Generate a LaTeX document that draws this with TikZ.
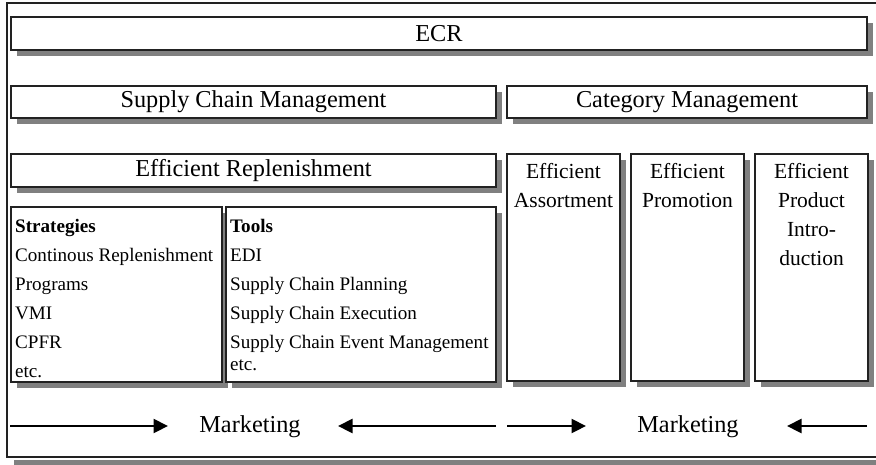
\documentclass[tikz,border=0pt]{standalone}
\usepackage{fontspec}
\setmainfont{Liberation Serif}
\usetikzlibrary{arrows.meta}
\definecolor{shadowgray}{HTML}{808080}
\definecolor{edge}{HTML}{222222}
\tikzset{
  x=1pt, y=-1pt,
  shbox/.style={draw=edge, line width=1.2pt, fill=white},
  shad/.style={fill=shadowgray},
  bigtext/.style={font=\fontsize{24.3}{28}\selectfont, inner sep=0pt},
  cattext/.style={font=\fontsize{21.5}{29}\selectfont, inner sep=0pt, anchor=base},
  listtext/.style={font=\fontsize{19.1}{29}\selectfont, inner sep=0pt, anchor=base west},
  arr/.style={line width=2.2pt, -{Triangle[length=14.5pt,width=14pt]}}
}
\newcommand{\myshbox}[5]{%
  \fill[shad] (#2+5.5,#3+5.5) rectangle (#4+5.5,#5+5.5);
  \draw[shbox] (#2,#3) rectangle (#4,#5);
  \coordinate (#1) at ({(#2+#4)/2},{(#3+#5)/2});
}
\newcommand{\ctab}[1]{\begin{tabular}[t]{@{}c@{}}#1\end{tabular}}
\newcommand{\ltab}[1]{\begin{tabular}[t]{@{}l@{}}#1\end{tabular}}
\begin{document}
\begin{tikzpicture}
\useasboundingbox (0,0) rectangle (876,464);
\begin{scope}
\clip (0,0) rectangle (876,464);
\fill[shad] (14,460) rectangle (890,470);
\draw[edge, line width=1.3pt, fill=white] (7,3) rectangle (885,457);
\end{scope}
\myshbox{ecr}{11}{17}{867}{50}
\myshbox{scm}{11}{86}{496}{118}
\myshbox{cm}{507}{86}{867}{118}
\myshbox{er}{11}{154}{496}{187}
\myshbox{ea}{507}{154}{620}{381}
\myshbox{ep}{631}{154}{744}{381}
\myshbox{epi}{755}{154}{868}{381}
\myshbox{strat}{11}{207}{222}{382}
\myshbox{tools}{226}{207}{496}{382}
\node[bigtext] (tecr) at (ecr) {ECR};
\node[bigtext] (tscm) at (scm) {Supply Chain Management};
\node[bigtext] (tcm) at (cm) {Category Management};
\node[bigtext] (ter) at (er) {Efficient Replenishment};
\node[cattext] (tea) at (563.5,178) {\ctab{Efficient\\Assortment}};
\node[cattext] (tep) at (687.5,178) {\ctab{Efficient\\Promotion}};
\node[cattext] (tepi) at (811.5,178) {\ctab{Efficient\\Product\\Intro-\\duction}};
\node[listtext] (tstrat) at (15,232) {\ltab{\textbf{Strategies}\\Continous Replenishment\\Programs\\VMI\\CPFR\\etc.}};
\node[listtext] (ttools) at (230,232) {\ltab{\textbf{Tools}\\EDI\\Supply Chain Planning\\Supply Chain Execution\\Supply Chain Event Management\\[-7pt]etc.}};
\node[bigtext, anchor=base] (m1) at (250,432) {Marketing};
\node[bigtext, anchor=base] (m2) at (688,432) {Marketing};
\coordinate (a1s) at (10,426);
\coordinate (a1e) at (168,426);
\coordinate (a2s) at (496,426);
\coordinate (a2e) at (338,426);
\coordinate (a3s) at (507,426);
\coordinate (a3e) at (586,426);
\coordinate (a4s) at (867,426);
\coordinate (a4e) at (787,426);
\draw[arr] (a1s) -- (a1e);
\draw[arr] (a2s) -- (a2e);
\draw[arr] (a3s) -- (a3e);
\draw[arr] (a4s) -- (a4e);
\end{tikzpicture}
\end{document}
